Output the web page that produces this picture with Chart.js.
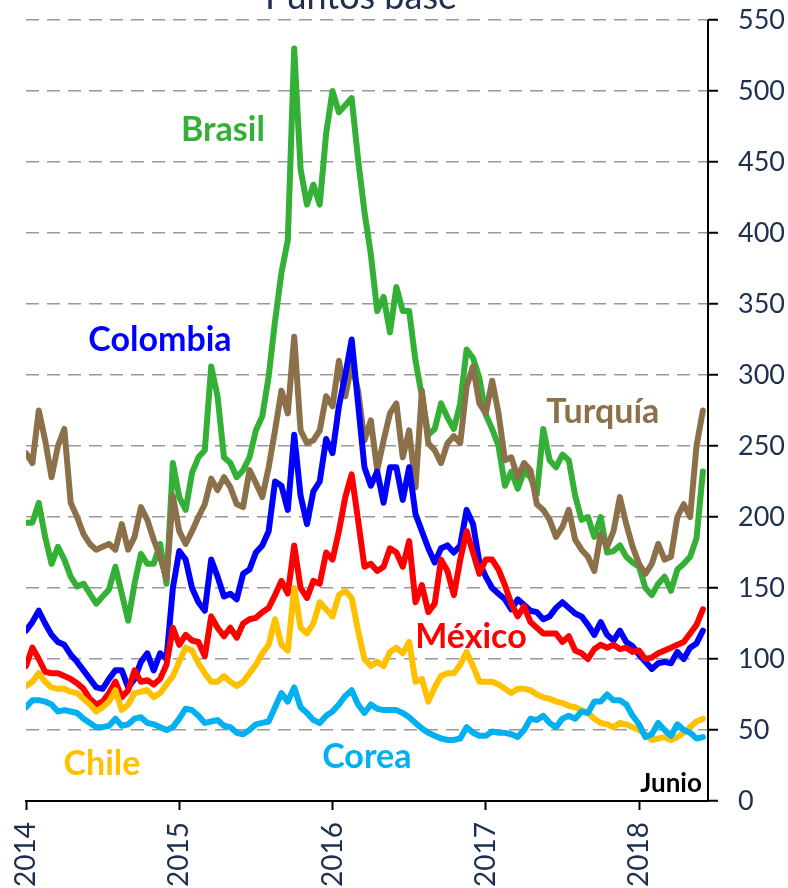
<!DOCTYPE html>
<html><head><meta charset="utf-8">
<script src="https://cdn.jsdelivr.net/npm/chart.js@4.4.1/dist/chart.umd.min.js"></script>
<style>html,body{margin:0;padding:0;background:#fff;overflow:hidden}</style>
</head><body>
<canvas id="c" width="788" height="888"></canvas>
<script>
// Semi-monthly observation dates, Jan 2014 - Jun 2018
const periods = [];
for (let i = 0; i < 107; i++) {
  const yr = 2014 + Math.floor(i / 24);
  const mo = Math.floor((i % 24) / 2) + 1;
  const dy = i % 2 ? 16 : 1;
  periods.push(yr + '-' + String(mo).padStart(2, '0') + '-' + String(dy).padStart(2, '0'));
}
const yearTicks = [2014, 2015, 2016, 2017, 2018];
const yTicks = [0, 50, 100, 150, 200, 250, 300, 350, 400, 450, 500, 550];

const brasil = [196,196,210,186,167,179,170,158,151,153,146,139,144,149,165,146,127,153,174,167,167,181,153,238,
214,205,231,242,247,306,285,242,238,228,233,242,261,271,299,338,372,395,530,445,420,434,420,470,
500,485,490,495,452,415,385,345,355,330,362,345,345,310,285,258,262,280,270,262,280,318,312,298,
272,262,250,222,232,220,232,228,216,262,240,235,244,240,215,198,200,186,200,175,176,180,172,168,
165,150,145,153,158,148,163,167,172,185,232];
const turquia = [245,238,275,254,228,250,262,210,200,188,181,177,179,181,177,195,177,186,207,198,184,172,156,215,
190,181,190,200,209,227,219,228,221,209,207,233,224,214,235,261,289,273,327,261,252,254,261,285,
278,310,285,308,289,254,268,233,254,273,280,242,261,221,289,252,247,238,252,257,252,292,306,280,
273,296,273,240,242,228,238,233,209,205,198,186,193,205,184,177,172,162,188,179,190,214,195,179,
167,160,167,181,170,172,200,209,200,250,275];
const colombia = [120,126,134,125,117,112,110,103,98,92,86,80,79,86,92,92,80,86,98,104,92,104,100,150,
176,170,150,140,134,170,158,144,146,142,160,163,175,180,190,225,222,205,258,215,195,218,225,255,
245,278,300,325,280,235,222,232,210,235,235,212,235,202,190,178,168,178,180,175,180,205,195,168,
158,150,146,142,135,142,138,134,133,128,130,136,140,136,132,130,124,117,126,117,113,120,112,109,
103,98,93,97,98,97,105,100,108,111,120];
const mexico = [95,108,100,91,90,90,88,86,83,79,72,68,70,76,84,73,78,92,84,85,82,86,96,122,
110,117,113,112,102,130,122,116,122,115,125,128,129,133,136,145,155,146,180,150,143,155,153,175,
170,190,214,230,198,165,167,162,165,178,175,165,183,140,152,133,139,170,162,145,170,190,175,160,
170,170,163,152,139,130,137,126,122,118,118,118,112,116,106,104,100,107,110,108,110,107,108,105,
106,100,101,104,106,108,110,112,118,124,135];
const chile = [81,84,90,84,80,79,79,77,76,72,68,63,66,70,78,64,68,76,77,78,73,76,82,88,
98,108,106,97,90,84,84,88,84,81,84,90,96,104,110,128,110,106,150,122,118,125,140,135,
130,145,148,143,120,100,95,98,95,105,108,104,112,84,86,70,80,88,90,90,96,105,95,84,
84,84,82,79,76,79,79,78,75,73,72,70,69,67,66,64,62,58,55,54,52,55,54,52,
50,47,43,44,45,43,45,48,52,56,58];
const corea = [66,71,71,70,68,63,64,63,62,58,55,52,52,53,58,53,54,58,59,55,54,52,50,52,
58,65,64,60,55,56,57,53,52,48,47,50,54,55,56,66,76,70,80,66,62,57,55,60,
63,68,74,78,68,62,68,65,64,64,64,62,59,55,51,48,46,44,43,43,44,52,48,46,
46,49,48,48,47,45,50,58,57,60,55,52,58,60,58,63,62,70,70,75,71,71,68,60,
54,45,47,55,50,46,54,50,48,44,45];

function toYear(s) {
  const [yr, mo, dy] = s.split('-').map(Number);
  return yr + (mo - 1) / 12 + (dy === 16 ? 1 / 24 : 0);
}
const xs = periods.map(toYear);
const pts = arr => arr.map((v, i) => ({ x: xs[i], y: v }));

const series = [
  { name: 'Corea', data: corea, color: '#00B0F0' },
  { name: 'Chile', data: chile, color: '#FFC000' },
  { name: 'México', data: mexico, color: '#FF0000' },
  { name: 'Colombia', data: colombia, color: '#0000FF' },
  { name: 'Turquía', data: turquia, color: '#8C7049' },
  { name: 'Brasil', data: brasil, color: '#33B035' }
];

// Text labels placed in data coordinates (year, basis points) at baseline
const seriesLabels = [
  { text: 'Brasil', x: 2015.285, y: 465, color: '#33B035', size: 34, align: 'center' },
  { text: 'Colombia', x: 2014.874, y: 317, color: '#0000FF', size: 34, align: 'center' },
  { text: 'Turquía', x: 2017.764, y: 266, color: '#8C7049', size: 34, align: 'center' },
  { text: 'México', x: 2016.903, y: 108, color: '#FF0000', size: 34, align: 'center' },
  { text: 'Chile', x: 2014.496, y: 18, color: '#FFC000', size: 34, align: 'center' },
  { text: 'Corea', x: 2016.224, y: 23, color: '#00B0F0', size: 34, align: 'center' },
  { text: 'Junio', x: 2018.41, y: 6, color: '#000000', size: 26, align: 'right' }
];

const navy = '#1F2F4F';
const annot = {
  id: 'annot',
  afterDraw(chart) {
    const { ctx, chartArea, scales } = chart;
    ctx.save();
    ctx.strokeStyle = '#000';
    ctx.lineWidth = 2;
    ctx.beginPath();
    ctx.moveTo(chartArea.right, chartArea.top);
    ctx.lineTo(chartArea.right, chartArea.bottom);
    ctx.stroke();
    ctx.fillStyle = navy;
    ctx.font = '36px Lato';
    ctx.textAlign = 'center';
    ctx.textBaseline = 'alphabetic';
    ctx.fillText('Puntos base', 361, 9);
    seriesLabels.forEach(l => {
      ctx.font = 'bold ' + l.size + 'px Lato';
      ctx.fillStyle = l.color;
      ctx.textAlign = l.align;
      ctx.fillText(l.text, scales.x.getPixelForValue(l.x), scales.y.getPixelForValue(l.y));
    });
    ctx.restore();
  }
};

new Chart(document.getElementById('c'), {
  type: 'line',
  data: {
    datasets: series.map(s => ({
      label: s.name,
      data: pts(s.data),
      borderColor: s.color,
      backgroundColor: s.color,
      borderWidth: 6,
      pointRadius: 0,
      tension: 0,
      borderJoinStyle: 'round',
      borderCapStyle: 'round'
    }))
  },
  options: {
    responsive: false,
    animation: false,
    devicePixelRatio: 1,
    layout: { padding: { left: 26, top: 20, right: 0, bottom: 0 } },
    plugins: { legend: { display: false }, tooltip: { enabled: false } },
    scales: {
      x: {
        type: 'linear',
        min: 2014,
        max: 2018.45,
        afterBuildTicks: sc => { sc.ticks = yearTicks.map(v => ({ value: v })); },
        afterFit: sc => { sc.height = 87; sc.paddingLeft = 0; sc.paddingRight = 0; sc.paddingTop = 0; sc.paddingBottom = 0; },
        ticks: {
          autoSkip: false,
          minRotation: 90,
          maxRotation: 90,
          padding: 12,
          color: navy,
          font: { family: 'Lato', size: 28 },
          callback: v => String(v)
        },
        grid: { display: true, drawOnChartArea: false, tickLength: 9, tickColor: '#000', tickWidth: 2 },
        border: { display: true, color: '#000', width: 2 }
      },
      y: {
        position: 'right',
        min: 0,
        max: 550,
        afterBuildTicks: sc => { sc.ticks = yTicks.map(v => ({ value: v })); },
        afterFit: sc => { sc.width = 80; sc.paddingTop = 0; sc.paddingBottom = 0; sc.paddingLeft = 0; sc.paddingRight = 0; },
        ticks: {
          padding: 20,
          color: navy,
          font: { family: 'Lato', size: 27 },
          callback: v => String(v)
        },
        grid: { color: '#999999', lineWidth: 1.5, tickLength: 10, tickColor: '#000', tickWidth: 2, tickBorderDash: [] },
        border: { display: false, dash: [13, 8] }
      }
    }
  },
  plugins: [annot]
});
</script>
</body></html>
